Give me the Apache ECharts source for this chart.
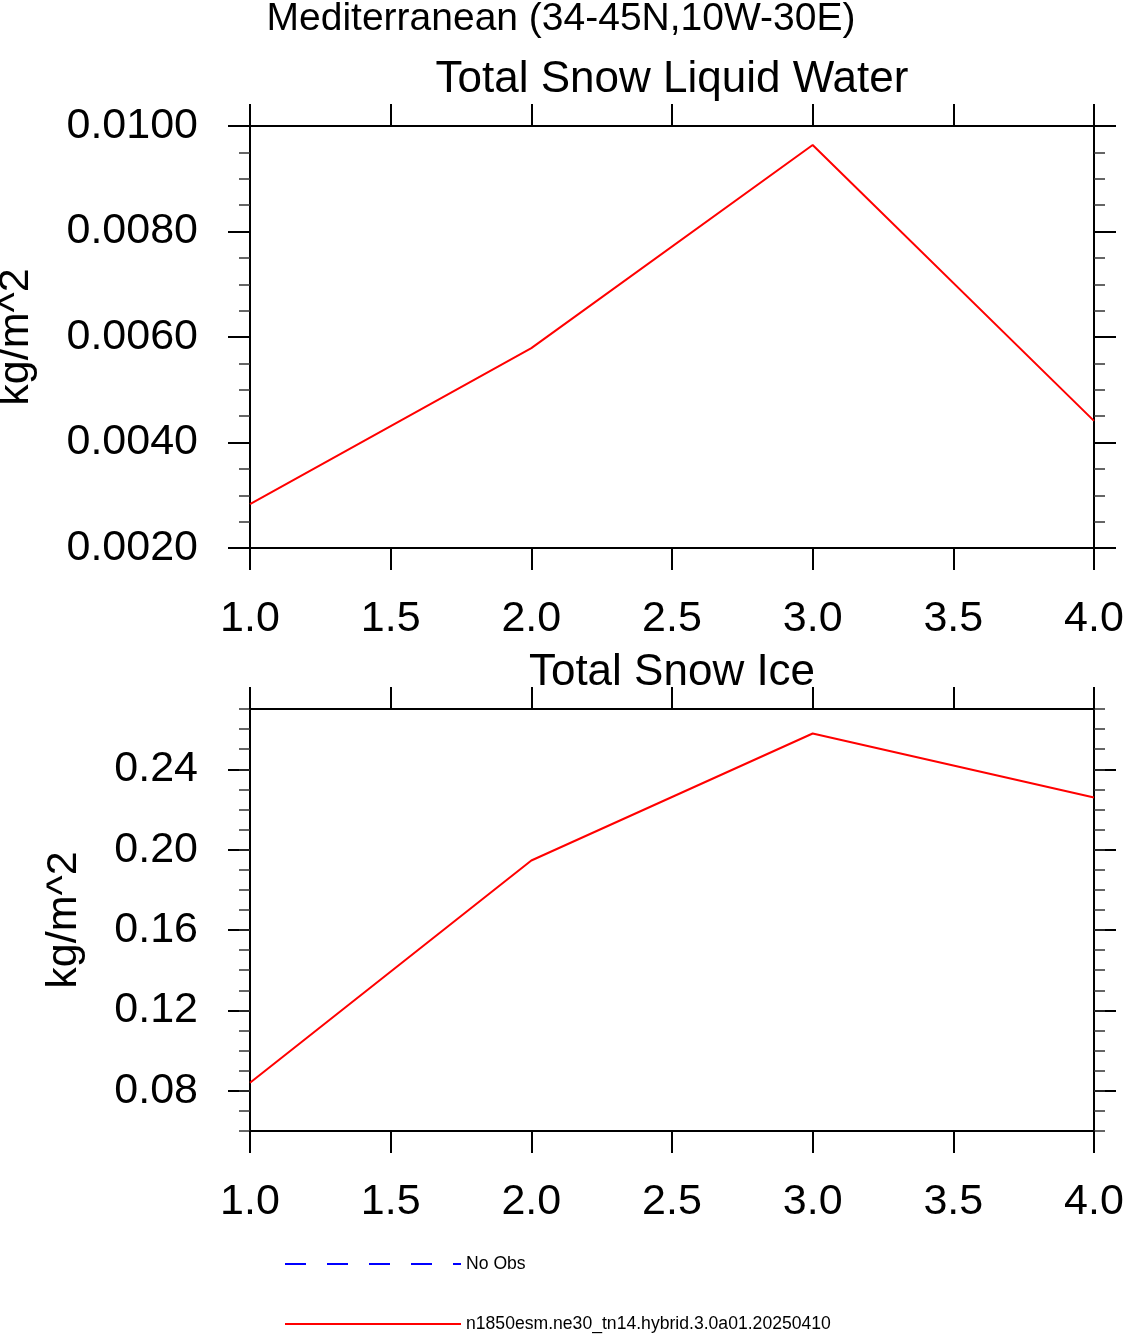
<!DOCTYPE html>
<html>
<head>
<meta charset="utf-8">
<script src="https://cdn.jsdelivr.net/npm/echarts@6/dist/echarts.min.js"></script>
<style>
  html, body { margin: 0; padding: 0; background: #fff; }
  #chart { width: 1123px; height: 1334px; }
</style>
</head>
<body>
<div id="chart"></div>
<script>
// x positions (years / index)
const xValues = [1, 2, 3, 4];
// Total Snow Liquid Water, kg/m^2
const liquidWater = [0.00283, 0.00579, 0.00964, 0.00441];
// Total Snow Ice, kg/m^2
const snowIce = [0.084, 0.1946, 0.2578, 0.226];
const iceMajorTicks = [0.08, 0.12, 0.16, 0.20, 0.24];

const mainTitle = "Mediterranean (34-45N,10W-30E)";
const panelTitles = ["Total Snow Liquid Water", "Total Snow Ice"];
const unitName = "kg/m^2";
const legendNames = ["No Obs", "n1850esm.ne30_tn14.hybrid.3.0a01.20250410"];

const FONT = "'Liberation Sans', Arial, Helvetica, sans-serif";
const black = "#000";
const LABEL_SIZE = 43;

function pairs(ys) {
  return xValues.map((x, i) => [x, ys[i]]);
}

function xAxisFor(gridIndex, position) {
  return {
    type: "value",
    gridIndex: gridIndex,
    position: position,
    min: 1,
    max: 4,
    interval: 0.5,
    axisLine: { show: true, lineStyle: { color: black, width: 2 } },
    axisTick: { show: true, length: 22, lineStyle: { color: black, width: 2 } },
    axisLabel: {
      show: position === "bottom",
      margin: 50,
      fontSize: LABEL_SIZE,
      fontFamily: FONT,
      color: black,
      formatter: (v) => v.toFixed(1),
    },
    splitLine: { show: false },
  };
}

function legendFor(name, top) {
  return {
    data: [name],
    left: 284, top: top,
    padding: 0,
    itemWidth: 176, itemHeight: 14,
    itemStyle: { opacity: 0, color: "rgba(0,0,0,0)", borderWidth: 0 },
    textStyle: { fontSize: 17.6, fontFamily: FONT, color: black },
    selectedMode: false,
  };
}

const chart = echarts.init(document.getElementById("chart"), null, { renderer: "canvas" });

const option = {
  animation: false,
  backgroundColor: "#fff",
  graphic: [
    {
      type: "text",
      style: { text: mainTitle, x: 561, y: 0, textAlign: "center", textVerticalAlign: "top",
        font: "39px " + FONT, fill: black },
    },
    {
      type: "text",
      style: { text: panelTitles[0], x: 672, y: 58, textAlign: "center", textVerticalAlign: "top",
        font: "44px " + FONT, fill: black },
    },
    {
      type: "text",
      style: { text: panelTitles[1], x: 672, y: 651, textAlign: "center", textVerticalAlign: "top",
        font: "44px " + FONT, fill: black },
    },
  ],
  grid: [
    { left: 250, top: 126, width: 844, height: 422, show: false, containLabel: false, outerBoundsMode: "none" },
    { left: 250, top: 709, width: 844, height: 422, show: false, containLabel: false, outerBoundsMode: "none" },
  ],
  xAxis: [
    xAxisFor(0, "bottom"),
    xAxisFor(0, "top"),
    xAxisFor(1, "bottom"),
    xAxisFor(1, "top"),
  ],
  yAxis: [
    // top panel, left
    {
      type: "value", gridIndex: 0, position: "left",
      min: 0.002, max: 0.01, interval: 0.002,
      name: unitName, nameLocation: "middle", nameGap: 212, nameRotate: 90,
      nameTextStyle: { fontSize: LABEL_SIZE, fontFamily: FONT, color: black },
      axisLine: { show: true, lineStyle: { color: black, width: 2 } },
      axisTick: { show: true, length: 22, lineStyle: { color: black, width: 2 } },
      minorTick: { show: true, splitNumber: 4, length: 11, lineStyle: { color: "#333", width: 1.5 } },
      axisLabel: { margin: 52, fontSize: LABEL_SIZE, fontFamily: FONT, color: black,
        formatter: (v) => v.toFixed(4) },
      splitLine: { show: false },
    },
    // top panel, right
    {
      type: "value", gridIndex: 0, position: "right",
      min: 0.002, max: 0.01, interval: 0.002,
      axisLine: { show: true, lineStyle: { color: black, width: 2 } },
      axisTick: { show: true, length: 22, lineStyle: { color: black, width: 2 } },
      minorTick: { show: true, splitNumber: 4, length: 11, lineStyle: { color: "#333", width: 1.5 } },
      axisLabel: { show: false },
      splitLine: { show: false },
    },
    // bottom panel, left major
    {
      type: "value", gridIndex: 1, position: "left",
      min: 0.06, max: 0.27,
      name: unitName, nameLocation: "middle", nameGap: 164, nameRotate: 90,
      nameTextStyle: { fontSize: LABEL_SIZE, fontFamily: FONT, color: black },
      axisLine: { show: true, lineStyle: { color: black, width: 2 } },
      axisTick: { show: true, length: 22, customValues: iceMajorTicks, lineStyle: { color: black, width: 2 } },
      axisLabel: { margin: 52, fontSize: LABEL_SIZE, fontFamily: FONT, color: black, customValues: iceMajorTicks,
        formatter: (v) => v.toFixed(2) },
      splitLine: { show: false },
    },
    // bottom panel, left minor
    {
      type: "value", gridIndex: 1, position: "left",
      min: 0.06, max: 0.27, interval: 0.01,
      axisLine: { show: false },
      axisTick: { show: true, length: 11, lineStyle: { color: "#333", width: 1.5 } },
      axisLabel: { show: false },
      splitLine: { show: false },
    },
    // bottom panel, right major
    {
      type: "value", gridIndex: 1, position: "right",
      min: 0.06, max: 0.27,
      axisLine: { show: true, lineStyle: { color: black, width: 2 } },
      axisTick: { show: true, length: 22, customValues: iceMajorTicks, lineStyle: { color: black, width: 2 } },
      axisLabel: { show: false },
      splitLine: { show: false },
    },
    // bottom panel, right minor
    {
      type: "value", gridIndex: 1, position: "right",
      min: 0.06, max: 0.27, interval: 0.01,
      axisLine: { show: false },
      axisTick: { show: true, length: 11, lineStyle: { color: "#333", width: 1.5 } },
      axisLabel: { show: false },
      splitLine: { show: false },
    },
  ],
  legend: [
    legendFor(legendNames[0], 1255),
    legendFor(legendNames[1], 1315),
  ],
  series: [
    {
      name: legendNames[1],
      type: "line",
      xAxisIndex: 0, yAxisIndex: 0,
      data: pairs(liquidWater),
      symbol: "none",
      lineStyle: { color: "#ff0000", width: 2 },
      itemStyle: { color: "#ff0000" },
    },
    {
      name: legendNames[1],
      type: "line",
      xAxisIndex: 2, yAxisIndex: 2,
      data: pairs(snowIce),
      symbol: "none",
      lineStyle: { color: "#ff0000", width: 2 },
      itemStyle: { color: "#ff0000" },
    },
    {
      name: legendNames[0],
      type: "line",
      xAxisIndex: 2, yAxisIndex: 2,
      data: [],
      symbol: "none",
      lineStyle: { color: "#0000ff", width: 1.5, type: [21, 21] },
      itemStyle: { color: "#0000ff" },
    },
  ],
};

chart.setOption(option);
</script>
</body>
</html>
